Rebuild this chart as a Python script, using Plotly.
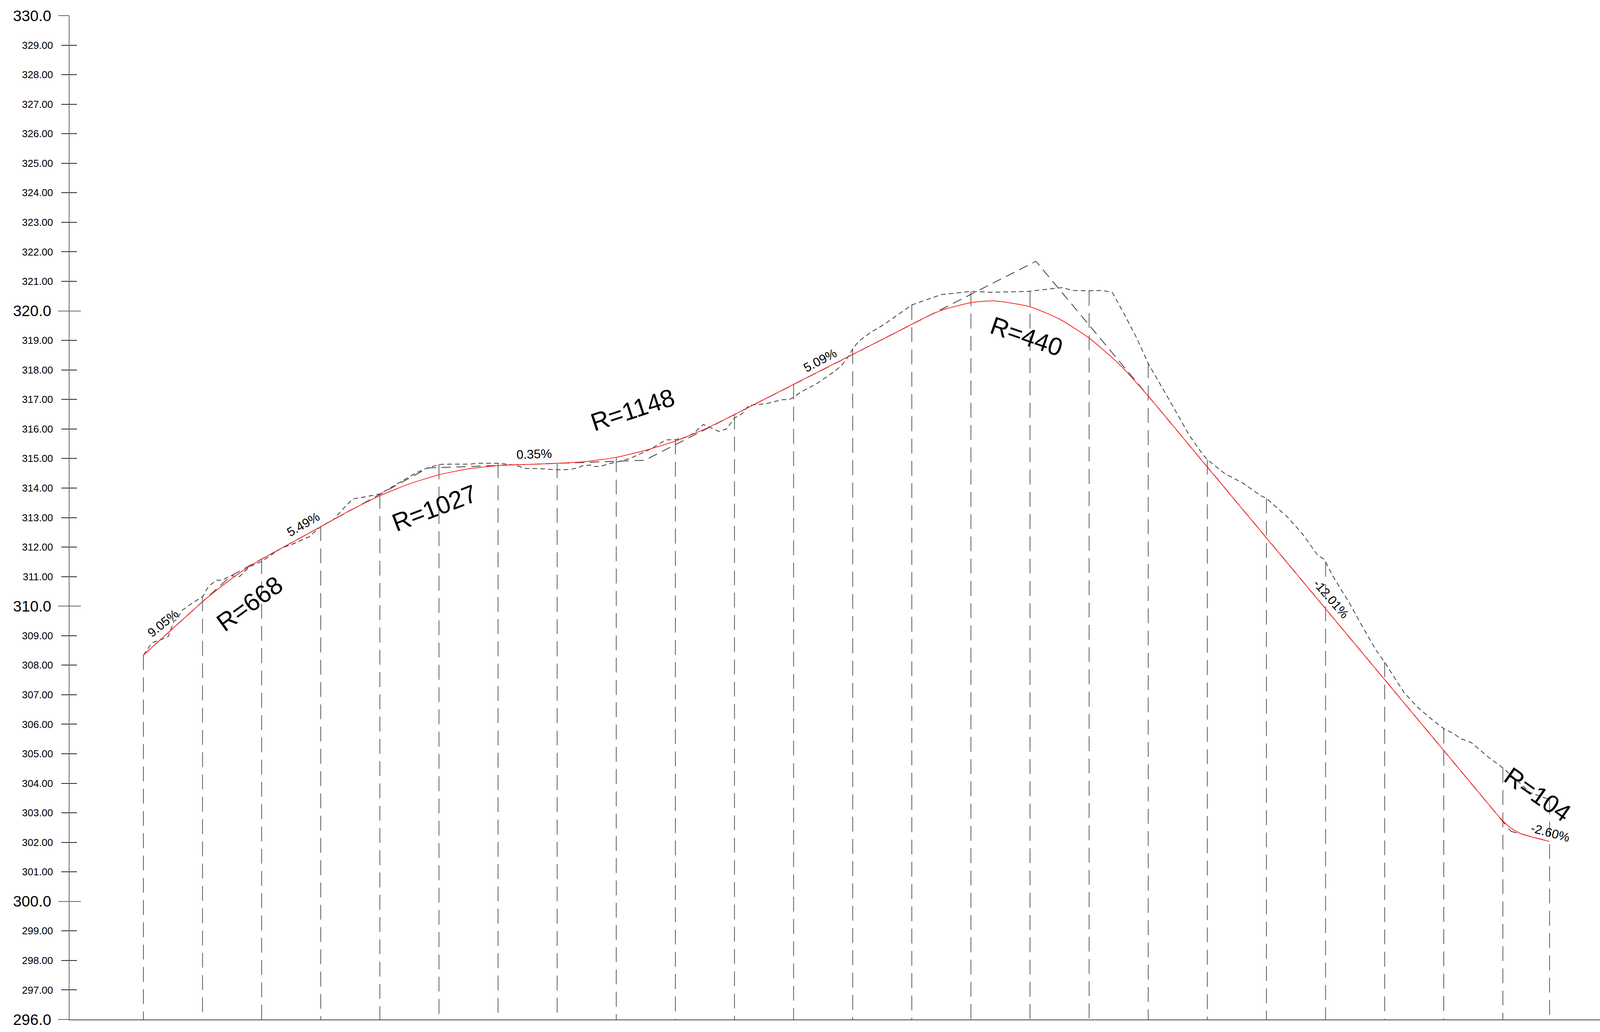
import plotly.graph_objects as go

# ---------------- data ----------------
# design (finished grade) profile, red line: chainage (m) / elevation (m)
design_x = [0, 10, 17.8, 20, 25, 30, 35, 41.6, 50, 60, 69.9, 80, 90, 100, 110, 122.7,
            130, 142.4, 150, 160, 170, 180, 190, 196.8, 210, 230, 250, 264.4, 270, 280,
            286.8, 290, 300, 310, 320, 330, 339.6, 360, 380, 400, 420, 440, 450, 457.9,
            460, 462, 464, 466, 467.7, 475.8]
design_z = [308.34, 309.25, 309.95, 310.15, 310.56, 310.94, 311.29, 311.68, 312.14, 312.69,
            313.24, 313.74, 314.14, 314.45, 314.65, 314.78, 314.80, 314.85, 314.90, 315.04,
            315.28, 315.59, 316.00, 316.33, 317.00, 318.02, 319.03, 319.77, 320.02, 320.28,
            320.34, 320.32, 320.14, 319.72, 319.08, 318.21, 317.16, 314.71, 312.31, 309.91,
            307.51, 305.11, 303.91, 302.96, 302.73, 302.54, 302.40, 302.30, 302.24, 302.03]

# grade line through the PVIs (long dashes)
pvi_x = [0, 29.7, 96.3, 169.6, 302.0, 462.8, 475.8]
pvi_z = [308.34, 311.03, 314.68, 314.94, 321.68, 302.37, 302.03]

# natural ground line (short dashes)
ground_x = [0, 2.6, 3.0, 6.1, 8.4, 10.3, 11.4, 13.0, 15.9, 20.1, 22.1, 24.8, 26.6, 29.5,
            32.5, 36.0, 40.1, 46.6, 50.2, 56.1, 60.2, 64.3, 67.9, 70.8, 76.0, 80.0, 83.7,
            87.7, 92.4, 95.8, 100.2, 103.9, 110.7, 112.7, 120.1, 125.5, 129.5, 133.6, 137.6,
            141.7, 144.4, 147.1, 148.4, 151.1, 152.5, 154.5, 157.9, 160.6, 164.6, 171.4,
            176.8, 180.1, 184.0, 186.5, 189.4, 191.7, 194.6, 197.1, 198.4, 200.0, 202.6,
            204.8, 207.1, 210.9, 216.0, 218.6, 220.0, 222.4, 227.6, 234.0, 236.5, 238.8,
            240.0, 242.0, 246.2, 250.0, 255.0, 260.0, 265.0, 270.0, 280.0, 286.6, 299.2,
            310.9, 314.4, 320.0, 324.6, 327.8, 332.1, 336.0, 340.0, 345.3, 347.4, 349.2,
            353.8, 358.3, 360.0, 365.9, 372.0, 378.1, 380.0, 387.2, 392.3, 397.3, 399.6,
            400.0, 402.4, 408.0, 412.4, 417.2, 420.0, 422.8, 426.6, 431.3, 436.1, 440.0,
            443.6, 445.5, 449.3, 452.1, 454.9, 460.0, 464.4, 469.1, 475.8]
ground_z = [308.34, 308.72, 308.76, 308.87, 308.97, 309.49, 309.55, 309.85, 310.06, 310.33,
            310.68, 310.88, 310.88, 311.03, 311.00, 311.34, 311.52, 311.96, 312.09, 312.35,
            312.71, 312.93, 313.33, 313.63, 313.72, 313.80, 314.01, 314.25, 314.52, 314.67,
            314.80, 314.81, 314.81, 314.84, 314.84, 314.78, 314.66, 314.66, 314.63, 314.62,
            314.63, 314.69, 314.75, 314.78, 314.73, 314.73, 314.83, 314.89, 315.00, 315.31,
            315.63, 315.64, 315.73, 315.88, 316.15, 316.06, 315.92, 315.99, 316.15, 316.37,
            316.52, 316.80, 316.82, 316.86, 316.99, 317.00, 317.07, 317.25, 317.52, 317.96,
            318.18, 318.49, 318.71, 318.97, 319.28, 319.50, 319.85, 320.20, 320.38, 320.55,
            320.66, 320.63, 320.66, 320.79, 320.69, 320.68, 320.69, 320.63, 319.85, 319.10,
            318.22, 317.30, 316.94, 316.62, 315.80, 315.16, 314.96, 314.49, 314.17, 313.74,
            313.65, 313.01, 312.43, 311.73, 311.58, 311.50, 311.03, 310.12, 309.32, 308.49,
            308.10, 307.66, 307.07, 306.56, 306.15, 305.85, 305.67, 305.52, 305.38, 305.14,
            304.90, 304.52, 304.13, 303.69, 303.45]

# stations (every 20 m) with ground and design elevations there
station_x = [0, 20, 40, 60, 80, 100, 120, 140, 160, 180, 200, 220, 240, 260, 280, 300,
             320, 340, 360, 380, 400, 420, 440, 460, 475.8]
station_ground = [308.34, 310.33, 311.52, 312.71, 313.80, 314.80, 314.84, 314.62, 314.88,
                  315.64, 316.37, 317.07, 318.71, 320.20, 320.66, 320.66, 320.68, 318.22,
                  314.96, 313.65, 311.50, 308.10, 305.85, 304.52, 303.45]
station_design = [308.34, 310.15, 311.59, 312.69, 313.74, 314.45, 314.76, 314.84, 315.04,
                  315.59, 316.49, 317.51, 318.52, 319.54, 320.28, 320.14, 319.08, 317.12,
                  314.71, 312.31, 309.91, 307.51, 305.11, 302.73, 302.03]
datum = 296.0

# grade and vertical curve labels
grade_labels = ["9.05%", "5.49%", "0.35%", "5.09%", "-12.01%", "-2.60%"]
grade_lx = [6.6, 54.1, 132.2, 229.0, 401.8, 476.0]
grade_ly = [309.42, 312.77, 315.15, 318.33, 310.25, 302.32]
grade_ang = [-39, -30, -2, -28, 49, 15]

curve_labels = ["R=668", "R=1027", "R=1148", "R=440", "R=104"]
curve_lx = [35.9, 98.5, 165.5, 298.8, 471.7]
curve_ly = [310.08, 313.33, 316.65, 319.14, 303.62]
curve_ang = [-36, -21, -18, 19, 35]

# axis ticks
major_vals = [296, 300, 310, 320, 330]
major_text = ["296.0", "300.0", "310.0", "320.0", "330.0"]
minor_vals = [v for v in range(297, 330) if v not in major_vals]
minor_text = ["%.2f" % v for v in minor_vals]

X_RANGE = [-25, 500.4]
Y_RANGE = [296, 330]
FONT = "Liberation Sans, Arial, sans-serif"

# ---------------- figure ----------------
fig = go.Figure()

# station verticals (from the higher of ground/design down to datum)
vx, vy = [], []
for sx, g, d in zip(station_x, station_ground, station_design):
    vx += [sx, sx, None]
    vy += [max(g, d), datum, None]
fig.add_trace(go.Scatter(x=vx, y=vy, mode="lines", hoverinfo="skip",
                         line=dict(color="#5a5a5a", width=2, dash="38px,19px"),
                         showlegend=False))

# grade line
fig.add_trace(go.Scatter(x=pvi_x, y=pvi_z, mode="lines", hoverinfo="skip",
                         line=dict(color="#3c3c3c", width=2, dash="24px,14px"),
                         showlegend=False))

# ground line
fig.add_trace(go.Scatter(x=ground_x, y=ground_z, mode="lines", hoverinfo="skip",
                         line=dict(color="#3c3c3c", width=2, dash="12px,8px"),
                         showlegend=False))

# design profile
fig.add_trace(go.Scatter(x=design_x, y=design_z, mode="lines", hoverinfo="skip",
                         line=dict(color="rgb(255,40,40)", width=2, shape="spline",
                                   smoothing=0.6),
                         showlegend=False))

# dummy traces so the overlay axes exist
for ya in ["y2", "y3", "y4"]:
    fig.add_trace(go.Scatter(x=[None], y=[None], yaxis=ya, showlegend=False,
                             hoverinfo="skip"))

annotations = []
for t, x, y, a in zip(grade_labels, grade_lx, grade_ly, grade_ang):
    annotations.append(dict(text=t, x=x, y=y, xref="x", yref="y", showarrow=False,
                            textangle=a, font=dict(family=FONT, size=32, color="black")))
for t, x, y, a in zip(curve_labels, curve_lx, curve_ly, curve_ang):
    annotations.append(dict(text=t, x=x, y=y, xref="x", yref="y", showarrow=False,
                            textangle=a, font=dict(family=FONT, size=64, color="black")))

common_y = dict(range=Y_RANGE, showgrid=False, zeroline=False, fixedrange=True)

fig.update_layout(
    width=4153, height=2641,
    margin=dict(l=178, r=0, t=40, b=32, pad=0),
    paper_bgcolor="white", plot_bgcolor="white",
    showlegend=False,
    xaxis=dict(range=X_RANGE, showgrid=False, zeroline=False, showticklabels=False,
               ticks="", showline=True, linecolor="#444444", linewidth=2,
               fixedrange=True),
    yaxis=dict(**common_y, tickmode="array", tickvals=minor_vals, ticktext=minor_text,
               ticks="outside", ticklen=19, tickwidth=2, tickcolor="#222222",
               tickfont=dict(family=FONT, size=26, color="black"),
               ticklabelstandoff=16,
               showline=True, linecolor="#666666", linewidth=2),
    yaxis2=dict(**common_y, overlaying="y", side="left", tickmode="array",
                tickvals=major_vals, ticktext=major_text,
                ticks="outside", ticklen=28, tickwidth=2, tickcolor="#666666",
                tickfont=dict(family=FONT, size=39, color="black"),
                ticklabelstandoff=10, showline=False),
    yaxis3=dict(**common_y, overlaying="y", side="left", tickmode="array",
                tickvals=minor_vals, ticks="inside", ticklen=19, tickwidth=2,
                tickcolor="#222222", showticklabels=False, showline=False),
    yaxis4=dict(**common_y, overlaying="y", side="left", tickmode="array",
                tickvals=major_vals, ticks="inside", ticklen=29, tickwidth=2,
                tickcolor="#666666", showticklabels=False, showline=False),
    annotations=annotations,
)

fig.write_html("out.html",
               config={"displayModeBar": False, "staticPlot": True},
               post_script="document.body.style.margin='0';document.body.style.overflow='hidden';")
